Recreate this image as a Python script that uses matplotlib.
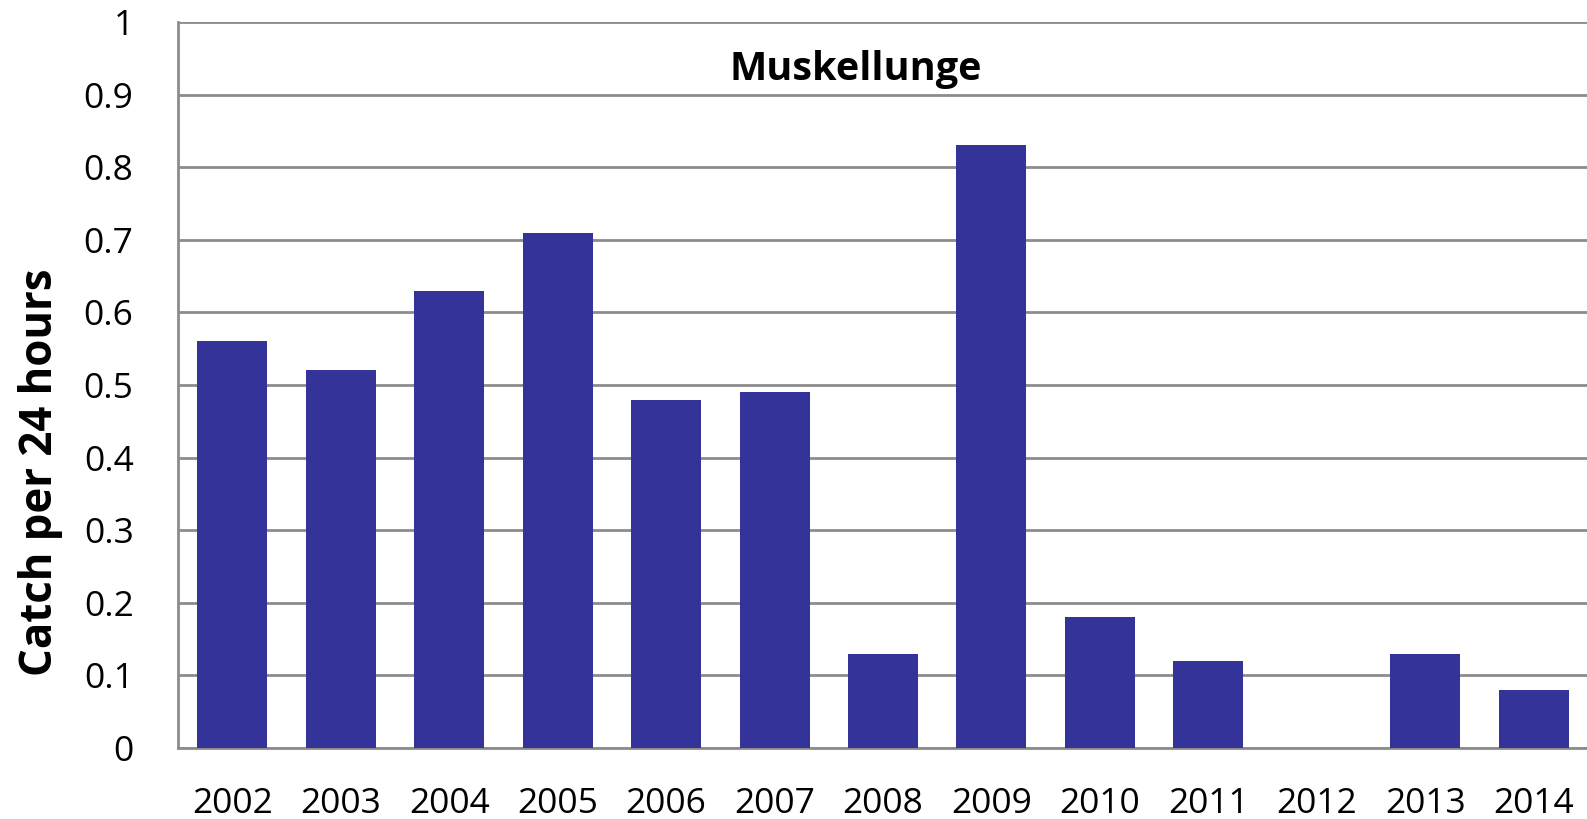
import numpy as np
import matplotlib
matplotlib.use('Agg')
import matplotlib.pyplot as plt

plt.rcParams['font.family'] = ['Open Sans', 'DejaVu Sans']

# catch per 24 hours by year
years = ['2002', '2003', '2004', '2005', '2006', '2007', '2008',
         '2009', '2010', '2011', '2012', '2013', '2014']
catch = [0.56, 0.52, 0.63, 0.71, 0.48, 0.49, 0.13,
         0.83, 0.18, 0.12, 0.0, 0.13, 0.08]
yticks = [0, 0.1, 0.2, 0.3, 0.4, 0.5, 0.6, 0.7, 0.8, 0.9, 1]
ytick_labels = ['0', '0.1', '0.2', '0.3', '0.4', '0.5', '0.6',
                '0.7', '0.8', '0.9', '1']

fig = plt.figure(figsize=(15.87, 8.19), dpi=100)
ax = fig.add_axes([178/1587, 1 - 748/819, (1588 - 178)/1587, (748 - 22)/819])

x = np.arange(len(years))
ax.bar(x, catch, width=0.645, color='#333399', zorder=3)

ax.set_xlim(-0.5, len(years) - 0.5)
ax.set_ylim(0, 1)
ax.set_yticks(yticks)
ax.set_yticklabels(ytick_labels)
ax.set_xticks(x)
ax.set_xticklabels(years)
ax.tick_params(axis='y', length=0, pad=32, labelsize=25.5)
ax.tick_params(axis='x', length=0, pad=28, labelsize=25.5)

ax.grid(axis='y', color='#8c8c8c', linewidth=2, zorder=0)
for s in ['top', 'right']:
    ax.spines[s].set_visible(False)
ax.spines['left'].set_color('#8c8c8c')
ax.spines['bottom'].set_color('#8c8c8c')
ax.spines['left'].set_linewidth(2)
ax.spines['bottom'].set_linewidth(2)

# y label sits lower than the axes centre in the original
fig.text(41/1587, 1 - 472/819, 'Catch per 24 hours', rotation=90,
         ha='center', va='center', fontsize=31.5, fontweight='bold')
ax.text(5.75, 0.935, 'Muskellunge', ha='center', va='center',
        fontsize=28.5, fontweight='bold')

fig.savefig('out.png', dpi=100)
